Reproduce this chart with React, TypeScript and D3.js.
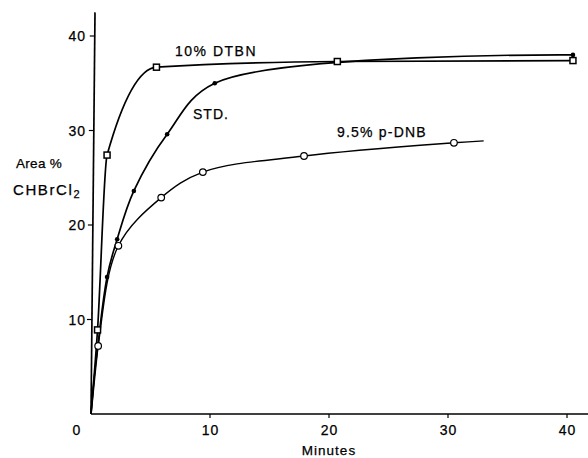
import React from "react";
import * as d3 from "d3";

// Data (minutes, area %)
const dtbnX = [0, 0.55, 1.35, 5.5, 20.7, 40.5];
const dtbnY = [0, 8.9, 27.4, 36.7, 37.3, 37.4];
const dtbnMarked = [false, true, true, true, true, true];

const stdX = [0, 1.35, 2.2, 3.6, 6.4, 10.4, 40.5];
const stdY = [0, 14.5, 18.5, 23.6, 29.6, 35.0, 38.0];
const stdMarked = [false, true, true, true, true, true, true];

const dnbX = [0, 0.6, 2.3, 5.9, 9.4, 17.9, 30.5, 33];
const dnbY = [0, 7.2, 17.8, 22.9, 25.6, 27.3, 28.7, 28.9];
const dnbMarked = [false, true, true, true, true, true, true, false];

const xTicks = [0, 10, 20, 30, 40];
const yTicks = [10, 20, 30, 40];

const W = 588;
const H = 458;
const FONT = "'Liberation Sans', Arial, sans-serif";

export default function App() {
  const x = d3.scaleLinear().domain([0, 40]).range([91, 567]);
  const y = d3.scaleLinear().domain([0, 40]).range([414, 36]);

  const lineOf = (curve: d3.CurveFactory) =>
    d3
      .line<[number, number]>()
      .x((d) => x(d[0]))
      .y((d) => y(d[1]))
      .curve(curve);
  const monoLine = lineOf(d3.curveMonotoneX);
  const smoothLine = lineOf(d3.curveCatmullRom.alpha(0.5));

  const pts = (xs: number[], ys: number[]) =>
    xs.map((v, i) => [v, ys[i]] as [number, number]);

  const dtbn = pts(dtbnX, dtbnY);
  const std = pts(stdX, stdY);
  const dnb = pts(dnbX, dnbY);

  const x0 = x(0);
  const y0 = y(0);
  const txt = { fill: "#000", stroke: "#000", strokeWidth: 0.25 };

  return (
    <svg
      width={W}
      height={H}
      style={{ position: "absolute", left: 0, top: 0, background: "#fff" }}
      fontFamily={FONT}
    >
      <rect width={W} height={H} fill="#fff" />
      {/* axes */}
      <line x1={x0 + 4} y1={y(42.5)} x2={x0} y2={y0} stroke="#000" strokeWidth={1.7} />
      <line x1={x0} y1={y0} x2={x(41.8)} y2={y0} stroke="#000" strokeWidth={1.5} />
      {yTicks.map((t) => (
        <g key={"y" + t}>
          <line
            x1={x0 - 5 + (t / 42.5) * 4}
            x2={x0 + (t / 42.5) * 4}
            y1={y(t)}
            y2={y(t)}
            stroke="#000"
            strokeWidth={1.2}
          />
          <text x={x0 - 5} y={y(t) + 5} textAnchor="end" fontSize={14} letterSpacing={1} {...txt}>
            {t}
          </text>
        </g>
      ))}
      {xTicks.map((t) => (
        <g key={"x" + t}>
          {t > 0 && (
            <line x1={x(t)} x2={x(t)} y1={y0} y2={y0 + 4} stroke="#000" strokeWidth={1.2} />
          )}
          <text
            x={t === 0 ? x(t) - 14 : x(t) + 0.5}
            y={435}
            textAnchor="middle"
            fontSize={14}
            letterSpacing={1}
            {...txt}
          >
            {t}
          </text>
        </g>
      ))}
      <text x={x(20)} y={455} textAnchor="middle" fontSize={13.5} letterSpacing={1} {...txt}>
        Minutes
      </text>
      <text x={16} y={168} fontSize={13.5} letterSpacing={0.3} {...txt}>
        Area %
      </text>
      <text x={13} y={195} fontSize={15} letterSpacing={1.6} {...txt}>
        CHBrCl<tspan fontSize={11} dy={3}>2</tspan>
      </text>

      {/* curves */}
      <path d={monoLine(dtbn) || ""} fill="none" stroke="#000" strokeWidth={1.7} />
      <path d={smoothLine(std) || ""} fill="none" stroke="#000" strokeWidth={1.7} />
      <path d={smoothLine(dnb) || ""} fill="none" stroke="#000" strokeWidth={1.4} />

      {/* markers */}
      {dtbn.map((d, i) =>
        dtbnMarked[i] ? (
          <rect
            key={"ds" + i}
            x={x(d[0]) - 3}
            y={y(d[1]) - 3}
            width={6}
            height={6}
            fill="#fff"
            stroke="#000"
            strokeWidth={1.5}
          />
        ) : null
      )}
      {std.map((d, i) =>
        stdMarked[i] ? (
          <circle key={"sd" + i} cx={x(d[0])} cy={y(d[1])} r={2.3} fill="#000" />
        ) : null
      )}
      {dnb.map((d, i) =>
        dnbMarked[i] ? (
          <circle
            key={"dc" + i}
            cx={x(d[0])}
            cy={y(d[1])}
            r={3.3}
            fill="#fff"
            stroke="#000"
            strokeWidth={1.2}
          />
        ) : null
      )}

      {/* series labels */}
      <text x={175} y={56} fontSize={14} letterSpacing={1.5} {...txt}>
        10% DTBN
      </text>
      <text x={193} y={119} fontSize={14} letterSpacing={1} {...txt}>
        STD.
      </text>
      <text x={337} y={137} fontSize={14} letterSpacing={1.2} {...txt}>
        9.5% p-DNB
      </text>
    </svg>
  );
}
